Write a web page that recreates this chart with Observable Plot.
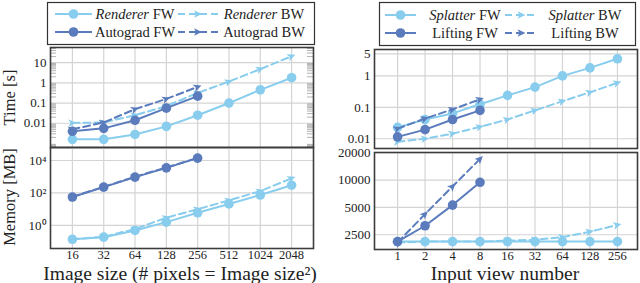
<!DOCTYPE html>
<html><head><meta charset="utf-8">
<script src="https://cdn.jsdelivr.net/npm/d3@7"></script>
<script src="https://cdn.jsdelivr.net/npm/@observablehq/plot@0.6"></script>
<style>
body{margin:0;background:#fff;}
#root{position:relative;width:640px;height:283px;overflow:hidden;font-family:"Liberation Serif",serif;}
#root svg{position:absolute;overflow:visible;}
</style></head><body><div id="root"></div>
<script>
// ---------- data ----------
const imageSizes = [16, 32, 64, 128, 256, 512, 1024, 2048];
const autogradSizes = [16, 32, 64, 128, 256];
const rendererTimeFW = [0.0016, 0.0016, 0.0028, 0.007, 0.025, 0.1, 0.45, 1.8];
const rendererTimeBW = [0.0103, 0.011, 0.025, 0.07, 0.32, 1.16, 4.8, 20.6];
const autogradTimeFW = [0.004, 0.0056, 0.014, 0.056, 0.22];
const autogradTimeBW = [0.005, 0.011, 0.05, 0.16, 0.63];
const rendererMemFW = [0.14, 0.19, 0.49, 1.6, 6, 21, 75, 300];
const rendererMemBW = [0.14, 0.2, 0.6, 3, 10, 35, 130, 800];
const autogradMemFW = [56, 230, 950, 3500, 14000];
const autogradMemBW = [58, 240, 1000, 3700, 14500];

const viewNumbers = [1, 2, 4, 8, 16, 32, 64, 128, 256];
const liftingViews = [1, 2, 4, 8];
const splatterTimeFW = [0.023, 0.041, 0.064, 0.125, 0.24, 0.44, 1.0, 1.8, 3.5];
const splatterTimeBW = [0.008, 0.01, 0.0145, 0.024, 0.041, 0.08, 0.157, 0.3, 0.6];
const liftingTimeFW = [0.0115, 0.0195, 0.041, 0.08];
const liftingTimeBW = [0.021, 0.044, 0.086, 0.18];
const splatterMemFW = [2100, 2100, 2100, 2100, 2100, 2100, 2100, 2100, 2100];
const splatterMemBW = [2050, 2100, 2100, 2100, 2150, 2200, 2350, 2700, 3200];
const liftingMemFW = [2100, 3140, 5300, 9450];
const liftingMemBW = [2060, 4220, 8500, 17100];

const leftTimeTicks = [0.01, 0.1, 1, 10];
const leftMemTicks = [1, 100, 10000];
const leftMemTickLabels = ["10⁰", "10²", "10⁴"];
const rightTimeTicks = [0.01, 0.1, 1, 5];
const rightMemTicks = [2500, 5000, 10000, 20000];

const leftLegend = [["Renderer", " FW", true], ["Renderer", " BW", true], ["Autograd FW", "", false], ["Autograd BW", "", false]];
const rightLegend = [["Splatter", " FW", true], ["Splatter", " BW", true], ["Lifting FW", "", false], ["Lifting BW", "", false]];

// ---------- styles ----------
const LIGHT = "#88CDED", DARK = "#5A7BBC", GRID = "#d4d4d4", FRAME = "#3c3c3c";
const FONT = "'Liberation Serif', serif";
const root = document.getElementById("root");

function arrowMarker(color) {
  const m = d3.create("svg:marker")
    .attr("viewBox", "-6 -6 12 12").attr("markerWidth", 12).attr("markerHeight", 12)
    .attr("markerUnits", "userSpaceOnUse").attr("orient", "auto").attr("overflow", "visible");
  m.append("path").attr("d", "M-4,-3.8L4,0L-4,3.8L-2,0Z")
    .attr("fill", color).attr("stroke", "none").attr("stroke-dasharray", "none");
  return m.node();
}

function seriesMarks(xs, ys, color, dashed) {
  const data = xs.map((x, i) => ({x, y: ys[i]}));
  if (dashed) return [Plot.line(data, {x: "x", y: "y", stroke: color, strokeWidth: 2, strokeDasharray: "7,4", marker: arrowMarker})];
  return [Plot.line(data, {x: "x", y: "y", stroke: color, strokeWidth: 2}),
          Plot.dot(data, {x: "x", y: "y", r: 4.8, fill: color, stroke: "none"})];
}

function makePanel(o) {
  const svgLeft = o.svgLeft, svgTop = o.frame[1] - 1;
  const mb = o.showX ? 34 : 1;
  const height = o.frame[3] - svgTop + mb;
  const fw = o.frame[2] - o.frame[0];
  const marks = [
    Plot.gridX(o.xTicks, {stroke: GRID, strokeOpacity: 1, strokeWidth: 1.2}),
    Plot.gridY(o.yTicks, {stroke: GRID, strokeOpacity: 1, strokeWidth: 1.2})
  ];
  if (o.minor) {
    marks.push(Plot.tickY(o.minor, {stroke: "#a0a0a0", strokeWidth: 0.8, insetRight: fw - 6}));
    marks.push(Plot.tickY(o.minor, {stroke: "#a0a0a0", strokeWidth: 0.8, insetLeft: fw - 6}));
  }
  marks.push(Plot.frame({stroke: FRAME, strokeWidth: 1.6}));
  marks.push(Plot.axisY(o.yTicks, {tickSize: 0, tickPadding: 4, text: o.yFormat, label: null}));
  if (o.showX) marks.push(Plot.axisX(o.xTicks, {tickSize: 0, tickPadding: 2, text: d => String(d), label: null, fontSize: 12.5}));
  for (const s of o.series) marks.push(...seriesMarks(s[0], s[1], s[2], s[3]));
  const svg = Plot.plot({
    width: 320, height,
    marginTop: 1, marginBottom: mb, marginLeft: o.frame[0] - svgLeft, marginRight: svgLeft + 320 - o.frame[2],
    x: {type: "log", base: 2, domain: o.xDomain, axis: o.showX ? undefined : null},
    y: {type: "log", domain: o.yDomain},
    style: {fontFamily: FONT, fontSize: "13px", color: "#222", background: "none", overflow: "visible"},
    marks
  });
  svg.style.left = svgLeft + "px";
  svg.style.top = svgTop + "px";
  root.appendChild(svg);
}

const minorTicks = [];
for (let e = -4; e <= 1; e++) for (let k = 2; k <= 9; k++) minorTicks.push(k * Math.pow(10, e));
const leftMinor = minorTicks.filter(v => v > 0.00063 && v < 56);

// overlay (legends and titles)
const W = 640, H = 283;
const ov = d3.create("svg").attr("width", W).attr("height", H).style("left", "0px").style("top", "0px")
  .style("font-family", FONT).attr("fill", "#222");
root.appendChild(ov.node());

makePanel({svgLeft: 0, frame: [50, 47, 313, 147], showX: false,
  xDomain: [Math.pow(2, 3.3), Math.pow(2, 11.7)], xTicks: imageSizes,
  yDomain: [Math.pow(10, -3.2), Math.pow(10, 1.75)], yTicks: leftTimeTicks, yFormat: d => String(d),
  minor: leftMinor,
  series: [[imageSizes, rendererTimeFW, LIGHT, false], [imageSizes, rendererTimeBW, LIGHT, true],
           [autogradSizes, autogradTimeFW, DARK, false], [autogradSizes, autogradTimeBW, DARK, true]]});
makePanel({svgLeft: 0, frame: [50, 147, 313, 248], showX: true,
  xDomain: [Math.pow(2, 3.3), Math.pow(2, 11.7)], xTicks: imageSizes,
  yDomain: [Math.pow(10, -1.42), Math.pow(10, 4.8)], yTicks: leftMemTicks,
  yFormat: d => leftMemTickLabels[leftMemTicks.indexOf(d)],
  series: [[imageSizes, rendererMemFW, LIGHT, false], [imageSizes, rendererMemBW, LIGHT, true],
           [autogradSizes, autogradMemFW, DARK, false], [autogradSizes, autogradMemBW, DARK, true]]});
makePanel({svgLeft: 320, frame: [374, 49, 637, 148], showX: false,
  xDomain: [Math.pow(2, -0.84), Math.pow(2, 8.73)], xTicks: viewNumbers,
  yDomain: [Math.pow(10, -2.31), Math.pow(10, 0.84)], yTicks: rightTimeTicks, yFormat: d => String(d),
  series: [[viewNumbers, splatterTimeFW, LIGHT, false], [viewNumbers, splatterTimeBW, LIGHT, true],
           [liftingViews, liftingTimeFW, DARK, false], [liftingViews, liftingTimeBW, DARK, true]]});
makePanel({svgLeft: 320, frame: [374, 152, 637, 249], showX: true,
  xDomain: [Math.pow(2, -0.84), Math.pow(2, 8.73)], xTicks: viewNumbers,
  yDomain: [1720, 20100], yTicks: rightMemTicks, yFormat: d => String(d),
  series: [[viewNumbers, splatterMemFW, LIGHT, false], [viewNumbers, splatterMemBW, LIGHT, true],
           [liftingViews, liftingMemFW, DARK, false], [liftingViews, liftingMemBW, DARK, true]]});

// legends
function legend(box, rowsY, cols, labels) {
  const g = ov.append("g");
  g.append("rect").attr("x", box[0] + 0.5).attr("y", box[1] + 0.5).attr("width", box[2] - box[0]).attr("height", box[3] - box[1])
    .attr("fill", "#fff").attr("stroke", "#333").attr("stroke-width", 1.2);
  labels.forEach((lab, i) => {
    const row = Math.floor(i / 2), col = i % 2;
    const y = rowsY[row], c = cols[col];
    const color = row === 0 ? LIGHT : DARK;
    const dashed = col === 1;
    g.append("line").attr("x1", c.x1).attr("x2", c.x2).attr("y1", y).attr("y2", y)
      .attr("stroke", color).attr("stroke-width", 2).attr("stroke-dasharray", dashed ? "7,4" : null);
    const mx = (c.x1 + c.x2) / 2;
    if (dashed) g.append("path").attr("d", "M-4,-3.8L4,0L-4,3.8L-2,0Z").attr("transform", `translate(${mx},${y})`).attr("fill", color);
    else g.append("circle").attr("cx", mx).attr("cy", y).attr("r", 4.8).attr("fill", color);
    const t = g.append("text").attr("x", c.tx).attr("y", y).attr("dy", "0.35em").attr("text-anchor", "middle")
      .attr("font-size", 14.5);
    if (lab[2]) {
      t.append("tspan").attr("font-style", "italic").text(lab[0]);
      t.append("tspan").text(lab[1]);
    } else t.text(lab[0]);
  });
}
legend([47, 2, 314, 44], [14, 32], [{x1: 55, x2: 92, tx: 135}, {x1: 178, x2: 218, tx: 264}], leftLegend);
legend([379, 2, 635, 45], [15, 33], [{x1: 385, x2: 416, tx: 465}, {x1: 505, x2: 538, tx: 585}], rightLegend);

// axis titles
ov.append("text").attr("x", 180).attr("y", 280).attr("text-anchor", "middle").attr("font-size", 19.5)
  .text("Image size (# pixels = Image size²)");
ov.append("text").attr("x", 505).attr("y", 280).attr("text-anchor", "middle").attr("font-size", 19.5)
  .text("Input view number");
ov.append("text").attr("transform", "translate(15,97.5) rotate(-90)").attr("text-anchor", "middle").attr("font-size", 16.5)
  .text("Time [s]");
ov.append("text").attr("transform", "translate(15,197) rotate(-90)").attr("text-anchor", "middle").attr("font-size", 16.5)
  .text("Memory [MB]");
</script></body></html>
